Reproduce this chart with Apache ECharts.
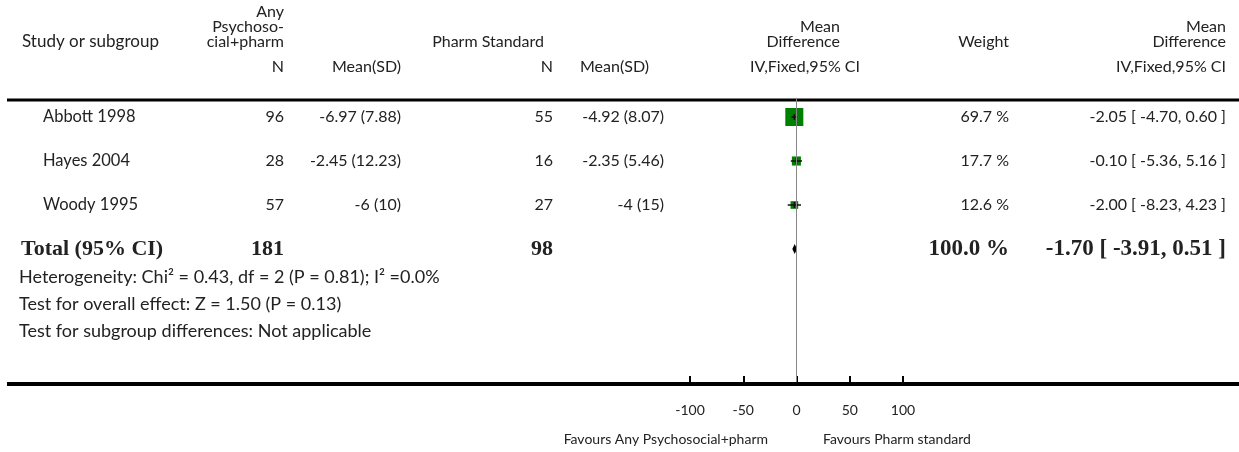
<!DOCTYPE html>
<html>
<head>
<meta charset="utf-8">
<script src="https://cdn.jsdelivr.net/npm/echarts@6/dist/echarts.min.js"></script>
<style>
html,body{margin:0;padding:0;background:#fff;}
#chart{width:1239px;height:452px;}
</style>
</head>
<body>
<div id="chart"></div>
<script>
// ---- data ----
var studies = ['Abbott 1998', 'Hayes 2004', 'Woody 1995'];
var n1 = [96, 28, 57];
var meanSd1 = ['-6.97 (7.88)', '-2.45 (12.23)', '-6 (10)'];
var n2 = [55, 16, 27];
var meanSd2 = ['-4.92 (8.07)', '-2.35 (5.46)', '-4 (15)'];
var weights = [69.7, 17.7, 12.6];
var md = [-2.05, -0.10, -2.00];
var ciLow = [-4.70, -5.36, -8.23];
var ciHigh = [0.60, 5.16, 4.23];
var total = { label: 'Total (95% CI)', n1: 181, n2: 98, weight: 100.0, md: -1.70, lo: -3.91, hi: 0.51 };
var footLines = [
  'Heterogeneity: Chi\u00B2 = 0.43, df = 2 (P = 0.81); I\u00B2 =0.0%',
  'Test for overall effect: Z = 1.50 (P = 0.13)',
  'Test for subgroup differences: Not applicable'
];
var xTicks = [-100, -50, 0, 50, 100];
var favourLeft = 'Favours Any Psychosocial+pharm';
var favourRight = 'Favours Pharm standard';

// ---- layout/style ----
var FONT = 'Lato';
var SERIF = '"Liberation Serif"';
var TXT = '#222';
var FS = 16;
var HS = 16;
var COL = { study: 43, n1: 284, ms1: 401, n2: 553, ms2: 664, w: 1009, ci: 1226 };

function fmt2(v){ return v.toFixed(2); }
function ciText(m, l, h){ return fmt2(m) + ' [ ' + fmt2(l) + ', ' + fmt2(h) + ' ]'; }

var chart = echarts.init(document.getElementById('chart'), null, {renderer:'canvas'});

var forestData = studies.map(function(s, i){ return [md[i], ciLow[i], ciHigh[i], weights[i], i]; });
var tableData = studies.map(function(s, i){ return [0, i]; });
tableData.push([0, 3]);

function txt(x, y, s, align, opt){
  opt = opt || {};
  return {
    type: 'text', x: x, y: y, silent: true,
    style: {
      text: s, fill: TXT, align: align || 'left', verticalAlign: 'middle',
      font: (opt.bold ? 'bold ' : '') + (opt.size || FS) + 'px ' + (opt.family || FONT)
    }
  };
}

var H = {size: HS};
var FOOT = {size: 18};
var headerGraphics = [
  {type:'line', shape:{x1:7, y1:100, x2:1239, y2:100}, style:{stroke:'#000', lineWidth:3}, silent:true},
  {type:'line', shape:{x1:7, y1:384, x2:1239, y2:384}, style:{stroke:'#000', lineWidth:4}, silent:true},
  txt(22, 42, 'Study or subgroup', 'left', {size:17}),
  txt(COL.n1, 12, 'Any', 'right', H),
  txt(COL.n1, 27, 'Psychoso-', 'right', H),
  txt(COL.n1, 42, 'cial+pharm', 'right', H),
  txt(544, 42, 'Pharm Standard', 'right', H),
  txt(840, 27, 'Mean', 'right', H),
  txt(840, 42, 'Difference', 'right', H),
  txt(COL.w, 42, 'Weight', 'right', H),
  txt(COL.ci, 27, 'Mean', 'right', H),
  txt(COL.ci, 42, 'Difference', 'right', H),
  txt(COL.n1, 67, 'N', 'right', H),
  txt(COL.ms1, 67, 'Mean(SD)', 'right', H),
  txt(COL.n2, 67, 'N', 'right', H),
  txt(580, 67, 'Mean(SD)', 'left', H),
  txt(860, 67, 'IV,Fixed,95% CI', 'right', H),
  txt(COL.ci, 67, 'IV,Fixed,95% CI', 'right', H),
  txt(19, 277, footLines[0], 'left', FOOT),
  txt(19, 304, footLines[1], 'left', FOOT),
  txt(19, 331, footLines[2], 'left', FOOT),
  txt(768, 439, favourLeft, 'right', {size:14}),
  txt(823, 439, favourRight, 'left', {size:14})
];

var option = {
  animation: false,
  backgroundColor: '#fff',
  grid: { left: 690, right: 1239 - 903, top: 99, bottom: 452 - 382, containLabel: false },
  xAxis: {
    type: 'value', min: -100, max: 100, interval: 50, position: 'bottom',
    axisLine: { show: false, onZero: false },
    axisTick: { show: true, inside: true, length: 6, lineStyle: { color: '#000', width: 2 } },
    splitLine: { show: false },
    axisLabel: { color: TXT, fontFamily: FONT, fontSize: 14, margin: 21,
      formatter: function(v){ return xTicks.indexOf(v) >= 0 ? String(v) : ''; } }
  },
  yAxis: {
    type: 'value', inverse: true, min: -18/44, max: (382-117)/44,
    show: false, axisLine: { onZero: false }
  },
  graphic: headerGraphics,
  series: [
    {
      type: 'custom',
      name: 'table',
      clip: false,
      silent: true,
      data: tableData,
      renderItem: function(params, api){
        var r = api.value(1);
        var y = api.coord([0, r])[1];
        var els;
        if (r < 3) {
          els = [
            txt(COL.study, y, studies[r], 'left', {size:16.5}),
            txt(COL.n1, y, String(n1[r]), 'right'),
            txt(COL.ms1, y, meanSd1[r], 'right'),
            txt(COL.n2, y, String(n2[r]), 'right'),
            txt(COL.ms2, y, meanSd2[r], 'right'),
            txt(COL.w, y, weights[r].toFixed(1) + ' %', 'right'),
            txt(COL.ci, y, ciText(md[r], ciLow[r], ciHigh[r]), 'right')
          ];
        } else {
          var b = {bold:true, family:SERIF, size:22};
          var b2 = {bold:true, family:SERIF, size:23};
          els = [
            txt(21, y, total.label, 'left', b),
            txt(COL.n1, y, String(total.n1), 'right', b),
            txt(COL.n2, y, String(total.n2), 'right', b),
            txt(COL.w, y, total.weight.toFixed(1) + ' %', 'right', b2),
            txt(COL.ci, y, ciText(total.md, total.lo, total.hi), 'right', b2)
          ];
        }
        return { type: 'group', children: els };
      },
      markLine: {
        silent: true, symbol: 'none', label: { show: false },
        lineStyle: { color: '#888', width: 1, type: 'solid' },
        data: [{ xAxis: 0 }]
      },
      z: 1
    },
    {
      type: 'custom',
      name: 'forest',
      clip: false,
      silent: true,
      data: forestData,
      renderItem: function(params, api){
        var m = api.value(0), lo = api.value(1), hi = api.value(2), w = api.value(3), r = api.value(4);
        var c = api.coord([m, r]);
        var pl = api.coord([lo, r]);
        var ph = api.coord([hi, r]);
        var s = 2.16 * Math.sqrt(w);
        return {
          type: 'group',
          children: [
            { type: 'rect', shape: { x: c[0] - s/2, y: c[1] - s/2, width: s, height: s }, style: { fill: '#008000' } },
            { type: 'line', shape: { x1: pl[0], y1: c[1], x2: ph[0], y2: c[1] }, style: { stroke: '#111', lineWidth: 1.5 } },
            { type: 'line', shape: { x1: c[0], y1: c[1] - 3, x2: c[0], y2: c[1] + 3 }, style: { stroke: '#111', lineWidth: 1.5 } }
          ]
        };
      },
      z: 3
    },
    {
      type: 'custom',
      name: 'total',
      clip: false,
      silent: true,
      data: [[total.md, total.lo, total.hi, 3]],
      renderItem: function(params, api){
        var r = api.value(3);
        var c = api.coord([api.value(0), r]);
        var pl = api.coord([api.value(1), r]);
        var ph = api.coord([api.value(2), r]);
        var h = 5;
        return {
          type: 'polygon',
          shape: { points: [[pl[0], c[1]], [c[0], c[1] - h], [ph[0], c[1]], [c[0], c[1] + h]] },
          style: { fill: '#000' }
        };
      },
      z: 3
    }
  ]
};
chart.setOption(option);
</script>
</body>
</html>
